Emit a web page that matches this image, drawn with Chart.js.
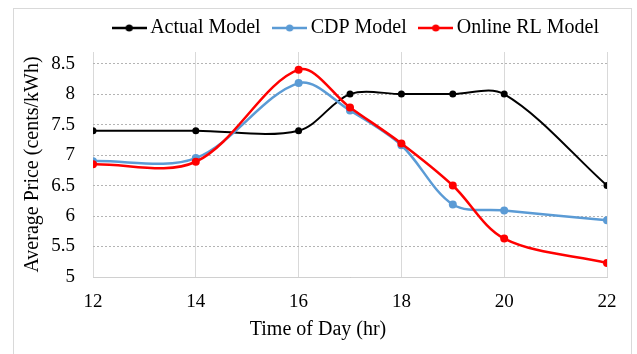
<!DOCTYPE html>
<html>
<head>
<meta charset="utf-8">
<script src="https://cdn.jsdelivr.net/npm/chart.js@4/dist/chart.umd.min.js"></script>
<style>
  html, body { margin: 0; padding: 0; background: #fff; overflow: hidden; }
  #wrap { position: relative; width: 637px; height: 354px; }
  #frame { position: absolute; left: 13px; top: 8px; width: 617px; height: 400px;
           border: 1px solid #d9d9d9; pointer-events: none; }
  canvas { position: absolute; left: 0; top: 0; }
</style>
</head>
<body>
<div id="wrap">
  <canvas id="chart" width="637" height="354"></canvas>
  <div id="frame"></div>
</div>
<script>
// values
const hours = [12, 14, 16, 17, 18, 19, 20, 22];
const actualModel = [7.4, 7.4, 7.4, 8.0, 8.0, 8.0, 8.0, 6.5];
const cdpModel = [6.9, 6.95, 8.18, 7.73, 7.16, 6.19, 6.09, 5.93];
const onlineRlModel = [6.85, 6.89, 8.4, 7.78, 7.19, 6.5, 5.63, 5.23];

const xTicks = [12, 14, 16, 18, 20, 22];
const yTicks = [5, 5.5, 6, 6.5, 7, 7.5, 8, 8.5];

const seriesNames = ['Actual Model', 'CDP Model', 'Online RL Model'];
const seriesColors = ['#000000', '#5b9bd5', '#ff0000'];

const FONT = "'Liberation Serif', 'Times New Roman', serif";

function pairs(ys) {
  return hours.map((h, i) => ({x: h, y: ys[i]}));
}

// little "line with dot" marker for the legend
function legendMark(color) {
  const c = document.createElement('canvas');
  c.width = 35;
  c.height = 10;
  const g = c.getContext('2d');
  g.strokeStyle = color;
  g.lineWidth = 2.5;
  g.beginPath();
  g.moveTo(0, 5);
  g.lineTo(35, 5);
  g.stroke();
  g.fillStyle = color;
  g.beginPath();
  g.arc(17.5, 5, 3.6, 0, Math.PI * 2);
  g.fill();
  return c;
}
const marks = seriesColors.map(legendMark);

// a bit of extra room between legend and plot
const legendGap = {
  id: 'legendGap',
  beforeLayout(chart) {
    const lg = chart.legend;
    if (lg && !lg._gapped) {
      const fit = lg.fit;
      lg.fit = function () {
        fit.call(this);
        this.height += 4;
      };
      lg._gapped = true;
    }
  }
};

const datasets = [actualModel, cdpModel, onlineRlModel].map((ys, i) => ({
  label: seriesNames[i],
  data: pairs(ys),
  borderColor: seriesColors[i],
  backgroundColor: seriesColors[i],
  pointBackgroundColor: seriesColors[i],
  pointBorderColor: seriesColors[i],
  pointRadius: i === 0 ? 3.5 : 4,
  pointBorderWidth: 0,
  borderWidth: i === 0 ? 2 : 2.5,
  tension: 0.33,
  fill: false,
  order: 2 - i
}));

new Chart(document.getElementById('chart'), {
  type: 'line',
  data: {datasets: datasets},
  plugins: [legendGap],
  options: {
    responsive: false,
    animation: false,
    devicePixelRatio: 1,
    layout: {padding: {left: 19, right: 20, top: 0, bottom: 12}},
    plugins: {
      tooltip: {enabled: false},
      legend: {
        position: 'top',
        align: 'end',
        labels: {
          usePointStyle: true,
          pointStyleWidth: 22,
          padding: 18,
          color: '#000',
          font: {family: FONT, size: 20},
          generateLabels: (chart) => chart.data.datasets.map((ds, i) => ({
            text: ds.label,
            pointStyle: marks[i],
            fillStyle: ds.borderColor,
            strokeStyle: ds.borderColor,
            lineWidth: 0,
            hidden: false,
            datasetIndex: i
          }))
        }
      },
      title: {
        display: true,
        position: 'bottom',
        text: 'Time of Day (hr)',
        color: '#000',
        font: {family: FONT, size: 20, weight: 'normal'},
        padding: {top: 0, bottom: 0}
      }
    },
    scales: {
      x: {
        type: 'linear',
        min: 12,
        max: 22,
        afterBuildTicks: (s) => { s.ticks = xTicks.map(v => ({value: v})); },
        afterFit: (s) => { s.height = 41; },
        ticks: {
          padding: 14,
          color: '#000',
          font: {family: FONT, size: 19},
          callback: (v) => String(v)
        },
        grid: {color: '#d9d9d9', lineWidth: 1, drawTicks: false},
        border: {color: '#d0d0d0', width: 1}
      },
      y: {
        type: 'linear',
        min: 5,
        max: 8.69,
        afterBuildTicks: (s) => { s.ticks = yTicks.map(v => ({value: v})); },
        afterFit: (s) => { s.width = 74; },
        ticks: {
          padding: 18,
          color: '#000',
          font: {family: FONT, size: 19},
          callback: (v) => String(v)
        },
        grid: {color: '#b4b4b4', lineWidth: 1, drawTicks: false},
        border: {display: false, dash: [2, 2]},
        title: {
          display: true,
          text: 'Average Price (cents/kWh)',
          color: '#000',
          font: {family: FONT, size: 20},
          padding: {top: 2, bottom: 0}
        }
      },
      y2: {
        position: 'right',
        display: true,
        afterFit: (s) => { s.width = 10; },
        ticks: {display: false},
        grid: {display: false, drawTicks: false},
        border: {display: false}
      }
    }
  }
});
</script>
</body>
</html>
